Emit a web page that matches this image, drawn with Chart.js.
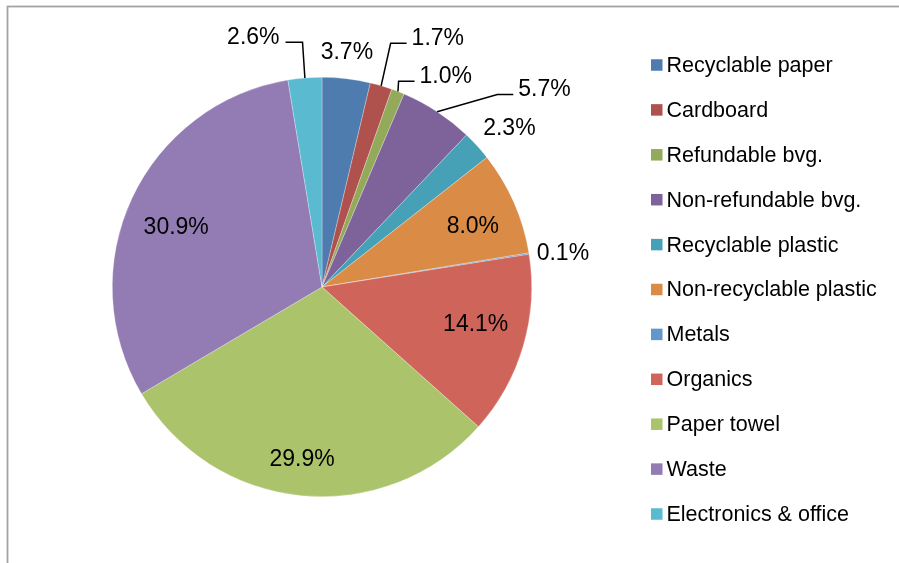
<!DOCTYPE html>
<html>
<head>
<meta charset="utf-8">
<title>Waste composition</title>
<script src="https://cdn.jsdelivr.net/npm/chart.js@4.4.1/dist/chart.umd.min.js"></script>
<style>
  html, body { margin: 0; padding: 0; background: #ffffff; }
  #wrap { width: 899px; height: 563px; position: relative; }
</style>
</head>
<body>
<div id="wrap"><canvas id="pie" width="899" height="563"></canvas></div>
<script>
// Waste stream categories and their share of the total (percent)
const categories = [
  'Recyclable paper', 'Cardboard', 'Refundable bvg.', 'Non-refundable bvg.',
  'Recyclable plastic', 'Non-recyclable plastic', 'Metals', 'Organics',
  'Paper towel', 'Waste', 'Electronics & office'
];
const shares = [3.7, 1.7, 1.0, 5.7, 2.3, 8.0, 0.1, 14.1, 29.9, 30.9, 2.6];
const sliceColors = [
  '#4F7CAF', '#AF524E', '#93AA5A', '#7D6399', '#47A1B6', '#DA8C47',
  '#6396CB', '#CF645B', '#ABC46B', '#937BB4', '#59BAD0'
];

// Label placement per slice: radius factor, angle shift (deg), leader line
const labelLayout = [
  { rf: 1.125, da: -0.6 },
  { rf: 1.308, da: 8.6, leader: true },
  { rf: 1.165, da: 9.2, leader: true },
  { rf: 1.419, da: 15.1, leader: true },
  { rf: 1.17, da: 2.1 },
  { rf: 0.774, da: 2.1 },
  { rf: 1.16, da: 1.2 },
  { rf: 0.755, da: -2.5 },
  { rf: 0.83, da: 1.0 },
  { rf: 0.75, da: -3.0 },
  { rf: 1.235, da: -10.7, leader: true }
];

const FONT = '"Liberation Sans", Arial, Helvetica, sans-serif';

// Gray frame around the plot area
const framePlugin = {
  id: 'frame',
  beforeDraw(chart) {
    const ctx = chart.ctx;
    ctx.save();
    ctx.strokeStyle = '#A3A3A3';
    ctx.lineWidth = 1.8;
    ctx.strokeRect(7.5, 6.5, 2000, 2000);
    ctx.restore();
  }
};

// Percentage labels with leader lines for the thin slices
const sliceLabelPlugin = {
  id: 'sliceLabels',
  afterDatasetsDraw(chart) {
    const ctx = chart.ctx;
    const meta = chart.getDatasetMeta(0);
    const values = chart.data.datasets[0].data;
    ctx.save();
    ctx.font = '23px ' + FONT;
    ctx.fillStyle = '#000000';
    ctx.textBaseline = 'middle';
    ctx.textAlign = 'center';
    meta.data.forEach((arc, i) => {
      const p = arc.getProps(['x', 'y', 'startAngle', 'endAngle', 'outerRadius'], true);
      const mid = (p.startAngle + p.endAngle) / 2;
      const lay = labelLayout[i];
      const ang = mid + lay.da * Math.PI / 180;
      const lx = p.x + Math.cos(ang) * p.outerRadius * lay.rf;
      const ly = p.y + Math.sin(ang) * p.outerRadius * lay.rf;
      const text = values[i].toFixed(1) + '%';
      if (lay.leader) {
        const w = ctx.measureText(text).width;
        const ax = p.x + Math.cos(mid) * p.outerRadius;
        const ay = p.y + Math.sin(mid) * p.outerRadius;
        const right = lx > ax;
        const edge = right ? lx - w / 2 - 5 : lx + w / 2 + 6;
        const knee = right ? edge - 16 : edge + 17;
        const yy = ly + 5;
        ctx.beginPath();
        ctx.strokeStyle = '#000000';
        ctx.lineWidth = 1.5;
        ctx.moveTo(edge, yy);
        ctx.lineTo(knee, yy);
        ctx.lineTo(ax, ay);
        ctx.stroke();
      }
      ctx.fillText(text, lx, ly);
    });
    ctx.restore();
  }
};

// Legend column on the right
const legendPlugin = {
  id: 'sideLegend',
  afterDraw(chart) {
    const ctx = chart.ctx;
    const opts = chart.options.plugins.sideLegend;
    const colors = chart.data.datasets[0].backgroundColor;
    ctx.save();
    ctx.font = opts.fontSize + 'px ' + FONT;
    ctx.textBaseline = 'middle';
    ctx.textAlign = 'left';
    chart.data.labels.forEach((label, i) => {
      const cy = opts.top + i * opts.step;
      ctx.fillStyle = colors[i];
      ctx.fillRect(opts.x, cy - opts.box / 2, opts.box, opts.box);
      ctx.fillStyle = '#000000';
      ctx.fillText(label, opts.x + opts.box + 4, cy + 1);
    });
    ctx.restore();
  }
};

new Chart(document.getElementById('pie'), {
  type: 'pie',
  data: {
    labels: categories,
    datasets: [{
      data: shares,
      backgroundColor: sliceColors,
      borderColor: 'rgba(255,255,255,0.45)',
      borderWidth: 0.6
    }]
  },
  options: {
    responsive: false,
    animation: false,
    rotation: 0,
    layout: { padding: { left: 112, right: 367, top: 77, bottom: 66 } },
    plugins: {
      legend: { display: false },
      tooltip: { enabled: false },
      sideLegend: { x: 651, box: 11.5, top: 65, step: 44.9, fontSize: 21.5 }
    }
  },
  plugins: [framePlugin, sliceLabelPlugin, legendPlugin]
});
</script>
</body>
</html>
